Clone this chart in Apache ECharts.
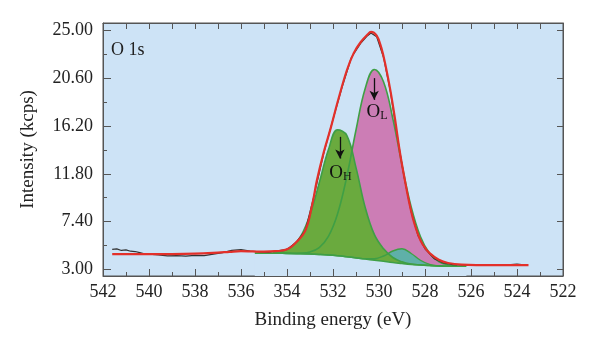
<!DOCTYPE html>
<html>
<head>
<meta charset="utf-8">
<script src="https://cdn.jsdelivr.net/npm/echarts@6/dist/echarts.min.js"></script>
<style>
  html, body { margin: 0; padding: 0; background: #fff; }
  #chart { width: 600px; height: 351px; }
</style>
</head>
<body>
<div id="chart"></div>
<script>
// tick labels (the source figure really prints "354" instead of 534)
var xTickVals = [542, 540, 538, 536, 534, 532, 530, 528, 526, 524, 522];
var xTickLabels = ['542', '540', '538', '536', '354', '532', '530', '528', '526', '524', '522'];
var yTickVals = [3, 7.4, 11.8, 16.2, 20.6, 25];
var yTickLabels = ['3.00', '7.40', '11.80', '16.20', '20.60', '25.00'];
var yMinorVals = [5.2, 9.6, 14, 18.4, 22.8];

// energies used for the fitted components (eV)
var compE = [534.6, 534.2, 533.8, 533.4, 533.0, 532.6, 532.2, 531.8, 531.4, 531.0, 530.6, 530.2,
  529.8, 529.4, 529.0, 528.6, 528.2, 527.8, 527.4, 527.0, 526.6];
var oH = [4.54, 4.67, 5.07, 6.07, 8.04, 10.95, 14.0, 15.84, 15.33, 12.37, 8.71, 6.2,
  4.9, 4.1, 3.7, 3.5, 3.42, 3.37, 3.33, 3.30, 3.29];
var oL = [4.50, 4.49, 4.48, 4.50, 4.61, 5.01, 6.04, 8.13, 11.54, 15.83, 19.65, 21.4,
  20.25, 16.89, 12.61, 8.75, 6.03, 4.47, 3.72, 3.42, 3.30];
var oX = [4.50, 4.49, 4.47, 4.45, 4.42, 4.38, 4.33, 4.26, 4.17, 4.07, 3.98, 3.99,
  4.24, 4.70, 4.90, 4.47, 3.85, 3.47, 3.34, 3.30, 3.29];

// background line under the components
var baseE = [535.4, 535.0, 534.6, 534.2, 533.8, 533.4, 533.0, 532.6, 532.2, 531.8, 531.4, 531.0,
  530.6, 530.2, 529.8, 529.4, 529.0, 528.6, 528.2, 527.8, 527.4, 527.0, 526.6, 526.2];
var baseline = [4.50, 4.50, 4.50, 4.49, 4.47, 4.45, 4.42, 4.38, 4.33, 4.26, 4.17, 4.07,
  3.96, 3.86, 3.75, 3.64, 3.55, 3.47, 3.41, 3.36, 3.32, 3.30, 3.29, 3.29];

// fitted envelope
var fitE = [541.6, 541, 540, 539, 538, 537, 536.5, 536, 535.5, 535, 534.5, 534.0, 533.6, 533.2,
  532.9, 532.7, 532.4, 532.1, 531.8, 531.4, 531.1, 530.8, 530.5, 530.35, 530.1, 529.9, 529.7,
  529.5, 529.3, 529.1, 528.9, 528.7, 528.5, 528.3, 528.1, 527.8, 527.4, 527.0, 526.4, 525, 523.5];
var fitV = [4.42, 4.42, 4.42, 4.42, 4.45, 4.55, 4.62, 4.68, 4.66, 4.64, 4.68, 4.85, 5.5, 6.6,
  9.0, 11.2, 13.8, 16.0, 18.4, 21.3, 22.9, 23.9, 24.6, 24.85, 24.5, 23.4, 21.6,
  19.4, 16.8, 13.9, 11.5, 9.3, 7.5, 6.2, 5.3, 4.5, 3.9, 3.6, 3.45, 3.4, 3.4];

// measured spectrum
var rawE = [541.6, 541.4, 541.2, 541.0, 540.8, 540.6, 540.4, 540.2, 540.0, 539.6, 539.2, 538.8,
  538.4, 538.0, 537.6, 537.2, 536.8, 536.4, 536.0, 535.6, 535.2, 534.8, 534.4, 534.0, 533.6,
  533.2, 532.8, 532.4, 532.0, 531.6, 531.2, 530.8, 530.5, 530.35, 530.1, 529.8, 529.5, 529.2,
  528.9, 528.6, 528.3, 528.0, 527.6, 527.2, 526.8, 526.0, 525.0, 524.4, 524.0, 523.8, 523.6];
var rawV = [4.85, 4.9, 4.75, 4.8, 4.68, 4.65, 4.55, 4.45, 4.42, 4.35, 4.25, 4.28,
  4.22, 4.3, 4.28, 4.42, 4.55, 4.75, 4.82, 4.7, 4.62, 4.6, 4.72, 4.85, 5.5,
  6.6, 10.0, 13.7, 16.8, 19.8, 22.5, 23.8, 24.5, 24.75, 24.4, 22.5, 19.3, 15.2,
  11.4, 8.3, 6.1, 4.9, 4.0, 3.6, 3.45, 3.38, 3.4, 3.42, 3.5, 3.45, 3.4];

function pairs(xs, ys) {
  return xs.map(function (x, i) { return [x, ys[i]]; });
}

var bg = '#cde3f6';
var serif = 'Liberation Serif';
var outline = '#3f9f45';

function fillSeries(name, xs, ys, color) {
  return {
    name: name, type: 'line', data: pairs(xs, ys), smooth: 0.4,
    symbol: 'none', lineStyle: { width: 0 }, areaStyle: { color: color, opacity: 1 },
    silent: true, z: 2
  };
}
function lineSeries(name, xs, ys, width) {
  return {
    name: name, type: 'line', data: pairs(xs, ys), smooth: 0.4, symbol: 'none',
    lineStyle: { color: outline, width: width }, silent: true, z: 3
  };
}

var chart = echarts.init(document.getElementById('chart'));

var yBase = { min: 2.4, max: 25.67, type: 'value', splitLine: { show: false }, z: 10 };

var option = {
  animation: false,
  title: {
    text: 'O 1s', left: 106, top: 36,
    textStyle: { fontFamily: serif, fontSize: 18, fontWeight: 'normal', color: '#222' }
  },
  grid: {
    left: 103, right: 37, top: 23, bottom: 75, show: true,
    backgroundColor: bg, borderColor: '#555', borderWidth: 1
  },
  xAxis: [{
    type: 'value', min: 522, max: 542, interval: 2, inverse: true, z: 10,
    name: 'Binding energy (eV)', nameLocation: 'middle', nameGap: 35,
    nameTextStyle: { fontFamily: serif, fontSize: 19, color: '#222' },
    axisLine: { lineStyle: { color: '#555' } },
    axisTick: { inside: true, length: 7, lineStyle: { color: '#555' } },
    minorTick: { show: true, splitNumber: 2, length: 4, lineStyle: { color: '#555' } },
    splitLine: { show: false },
    axisLabel: {
      fontFamily: serif, fontSize: 18, color: '#222', margin: 7,
      formatter: function (v) { return xTickLabels[xTickVals.indexOf(v)]; }
    }
  }, {
    type: 'value', position: 'top', min: 522, max: 542, interval: 1, inverse: true, z: 10,
    axisLine: { lineStyle: { color: '#555' } },
    axisTick: { inside: true, length: 6, lineStyle: { color: '#555' } },
    axisLabel: { show: false }, splitLine: { show: false }
  }],
  yAxis: [Object.assign({}, yBase, {
    position: 'left',
    name: 'Intensity (kcps)', nameLocation: 'middle', nameGap: 65,
    nameTextStyle: { fontFamily: serif, fontSize: 19, color: '#222' },
    axisLine: { show: true, lineStyle: { color: '#555' } },
    axisTick: { show: true, inside: true, length: 8, customValues: yTickVals, lineStyle: { color: '#555' } },
    axisLabel: {
      customValues: yTickVals, fontFamily: serif, fontSize: 18, color: '#222', margin: 10,
      formatter: function (v) { return yTickLabels[yTickVals.indexOf(v)]; }
    }
  }), Object.assign({}, yBase, {
    position: 'left',
    axisLine: { show: false },
    axisTick: { show: true, inside: true, length: 4, customValues: yMinorVals, lineStyle: { color: '#555' } },
    axisLabel: { show: false, customValues: yMinorVals }
  }), Object.assign({}, yBase, {
    position: 'right',
    axisLine: { show: true, lineStyle: { color: '#555' } },
    axisTick: { show: true, inside: true, length: 6, customValues: yTickVals, lineStyle: { color: '#555' } },
    axisLabel: { show: false, customValues: yTickVals }
  })],
  series: [
    fillSeries('O_L', compE, oL, '#cc7db5'),
    fillSeries('extra', compE, oX, '#5fb0a8'),
    fillSeries('O_H', compE, oH, '#6aaa3e'),
    fillSeries('mask', baseE, baseline, bg),
    lineSeries('O_L line', compE, oL, 1.6),
    lineSeries('extra line', compE, oX, 1.4),
    lineSeries('O_H line', compE, oH, 1.6),
    lineSeries('baseline', baseE, baseline, 1.6),
    {
      name: 'measured', type: 'line', data: pairs(rawE, rawV), symbol: 'none', z: 4,
      lineStyle: { color: '#333', width: 1.2 }, silent: true
    },
    {
      name: 'fit', type: 'line', data: pairs(fitE, fitV), smooth: 0.4, symbol: 'none', z: 5,
      lineStyle: { color: '#e3302a', width: 2.2 }, silent: true,
      markLine: {
        silent: true, symbol: ['none', 'arrow'], symbolSize: [7, 9],
        lineStyle: { color: '#111', width: 1.3, type: 'solid' }, label: { show: false },
        data: [
          [{ coord: [530.21, 20.6] }, { coord: [530.21, 18.6] }],
          [{ coord: [531.7, 15.2] }, { coord: [531.7, 13.2] }]
        ]
      },
      markPoint: {
        silent: true, symbol: 'circle', symbolSize: 0,
        label: {
          show: true, position: 'inside', color: '#111',
          formatter: function (p) { return '{o|O}{s|' + p.name + '}'; },
          rich: {
            o: { fontFamily: serif, fontSize: 19, color: '#111' },
            s: { fontFamily: serif, fontSize: 12, color: '#111', padding: [9, 0, 0, 0] }
          }
        },
        data: [
          { name: 'L', coord: [530.09, 17.5] },
          { name: 'H', coord: [531.68, 11.9] }
        ]
      }
    }
  ]
};

chart.setOption(option);
</script>
</body>
</html>
